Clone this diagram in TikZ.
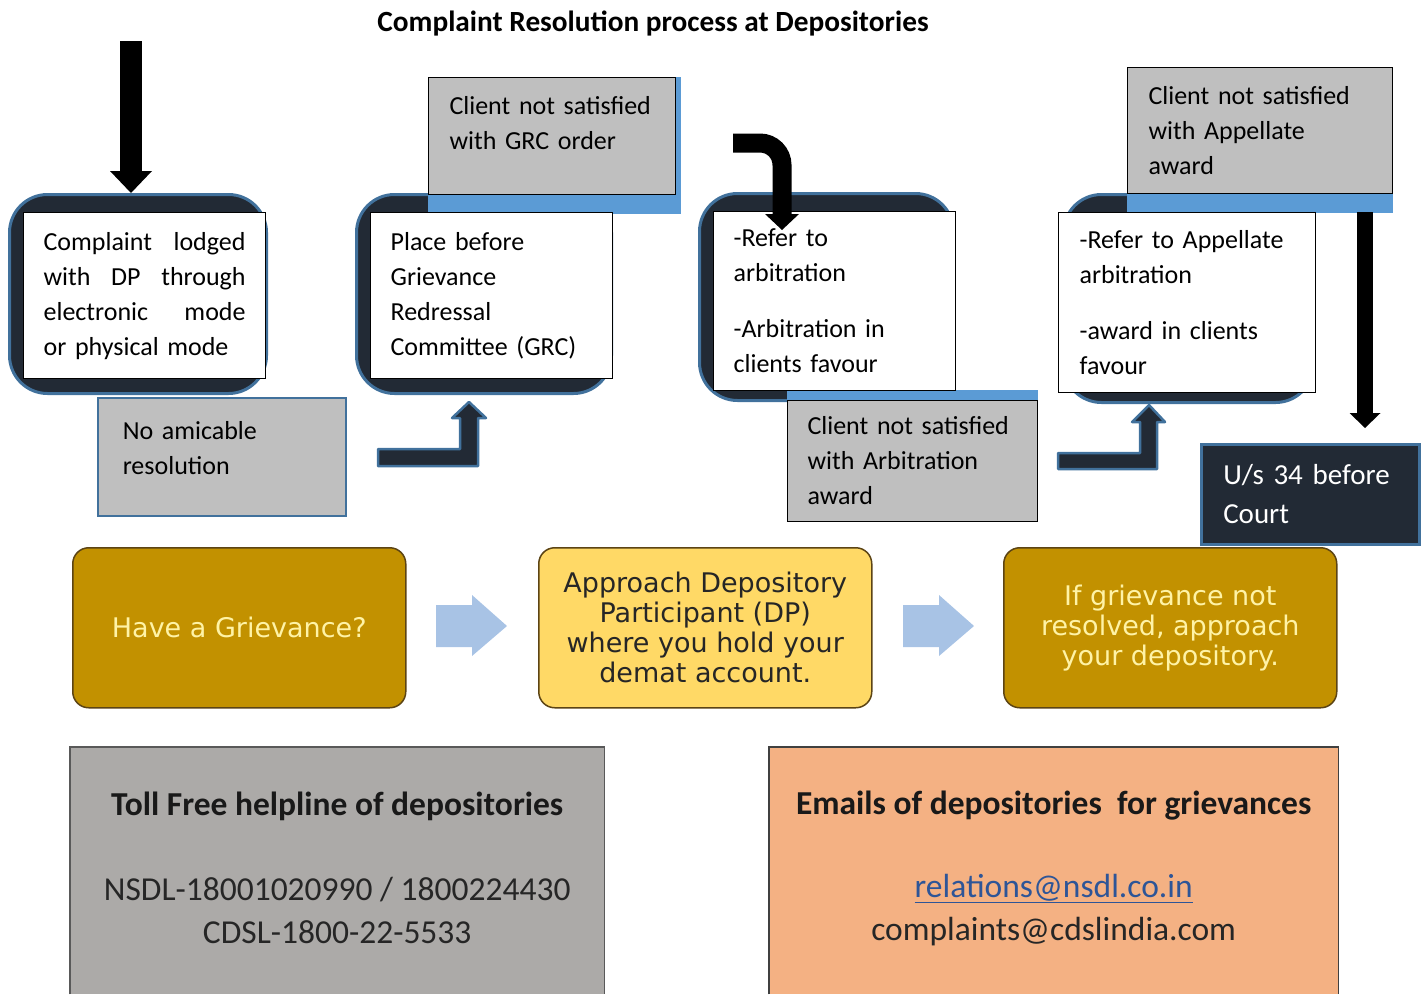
\documentclass[tikz,border=0pt]{standalone}
\usepackage{fontspec}
\setmainfont{Carlito}
\newfontfamily\vfont{DejaVu Sans}
\usepackage{xcolor}
\usetikzlibrary{arrows.meta}

\definecolor{navy}{HTML}{222A35}
\definecolor{edgeblue}{HTML}{41719C}
\definecolor{stripblue}{HTML}{5B9BD5}
\definecolor{panelgray}{HTML}{BFBFBF}
\definecolor{gold}{HTML}{C29100}
\definecolor{paleyellow}{HTML}{FFF3A6}
\definecolor{lightgold}{HTML}{FFD966}
\definecolor{goldedge}{HTML}{5C4414}
\definecolor{arrowblue}{HTML}{A8C3E5}
\definecolor{tollgray}{HTML}{ACAAA8}
\definecolor{peach}{HTML}{F4B183}
\definecolor{linkblue}{HTML}{2E5597}

\tikzset{
	body/.style={font=\fontsize{26}{35}\selectfont},
	back/.style={anchor=north west, fill=navy, draw=edgeblue, line width=3pt, rounded corners=38pt},
	whitebox/.style={body, anchor=north west, fill=white, draw=black, line width=1.2pt, inner xsep=20pt, inner ysep=0pt, align=left},
	graybox/.style={body, anchor=north west, fill=panelgray, draw=black, line width=1pt, inner xsep=21pt, inner ysep=0pt, align=left},
	strip/.style={anchor=north west, fill=stripblue, draw=stripblue, line width=0.5pt},
	bigarrow/.style={line width=22pt, -{Triangle[length=22pt,width=42pt,line width=0pt]}},
	bentarrow/.style={fill=navy, draw=edgeblue, line width=2.5pt, line join=round},
	stepbox/.style={anchor=north west, rounded corners=16pt, draw=goldedge, line width=1.5pt, minimum width=333pt, minimum height=160pt, align=center, font=\vfont\fontsize{27}{30}\selectfont},
	infobox/.style={anchor=north west, minimum width=534pt, minimum height=247pt, inner sep=0pt},
	headline/.style={font=\bfseries\fontsize{33.5}{38}\selectfont, text=black!90},
	contact/.style={font=\fontsize{33.5}{43}\selectfont, align=center, text=black!85}
}

\begin{document}
\begin{tikzpicture}[x=1pt,y=-1pt]
	\useasboundingbox (0,0) rectangle (1426,994);
	
	\node[font=\bfseries\fontsize{29.3}{34}\selectfont] (title) at (653,23) {Complaint Resolution process at Depositories};
	
	\node[back, minimum width=257pt, minimum height=199pt] (n1) at (8,193) {};
	\node[back, minimum width=255pt, minimum height=199pt] (n2) at (355,193) {};
	\node[back, minimum width=254pt, minimum height=207pt] (n3) at (698,192) {};
	\node[back, minimum width=250pt, minimum height=208pt] (n4) at (1062,193) {};
	
	\node[graybox, draw=edgeblue, line width=1.5pt, inner xsep=25pt, text width=198pt, minimum height=118pt] (g1) at (97,397) {No amicable\\resolution\\[-18pt]\mbox{}};
	
	\node[strip, minimum width=252pt, minimum height=136pt] (b2) at (428,77) {};
	\node[graybox, text width=205pt, minimum height=117pt] (g2) at (428,77) {Client not satisfied\\with GRC order\\[-9pt]\mbox{}};
	
	\node[strip, minimum width=250pt, minimum height=12pt] (b3) at (787,390) {};
	\node[graybox, inner xsep=20pt, text width=210pt, minimum height=121pt] (g3) at (787,400) {Client not satisfied\\with Arbitration\\award};
	
	\node[strip, minimum width=265pt, minimum height=145pt] (b4) at (1127,67) {};
	\node[graybox, text width=223pt, minimum height=126pt] (g4) at (1127,67) {Client not satisfied\\with Appellate\\award};
	
	\node[whitebox, text width=202pt, minimum height=166pt] (w1) at (23,212) {Complaint\hfill lodged\\with\hfill DP\hfill through\\electronic\hfill mode\\or physical mode};
	\node[whitebox, text width=202pt, minimum height=166pt] (w2) at (370,212) {Place before\\Grievance\\Redressal\\Committee (GRC)};
	\node[whitebox, text width=202pt, minimum height=179pt] (w3) at (713,211) {-Refer to\\arbitration\\[21pt]-Arbitration in\\clients favour};
	\node[whitebox, inner xsep=21pt, text width=215pt, minimum height=180pt] (w4) at (1058,212) {-Refer to Appellate\\arbitration\\[21pt]-award in clients\\favour};
	
	\node[anchor=north west, fill=navy, draw=edgeblue, line width=2.5pt, text=white, font=\fontsize{29}{39}\selectfont, align=left, inner xsep=22pt, inner ysep=0pt, text width=174pt, minimum height=100pt] (court) at (1200,443) {U/s 34 before\\Court};
	
	\coordinate (in) at (131,41);
	\draw[bigarrow] (in) -- (in |- n1.north);
	
	\coordinate (k) at (733,143);
	\draw[line width=19pt, rounded corners=22pt, -{Triangle[length=16pt,width=34pt,line width=0pt]}] (k) -| (782,230);
	
	\coordinate (r) at (1365,212);
	\draw[line width=16pt, -{Triangle[length=15pt,width=31pt,line width=0pt]}] (r) -- (1365,428);
	
	\draw[bentarrow] (378,449) -- (460,449) -- (460,418) -- (452,418) -- (469,402) -- (486,418) -- (478,418) -- (478,466) -- (378,466) -- cycle;
	\draw[bentarrow] (1058,453) -- (1140,453) -- (1140,422) -- (1132,422) -- (1149,405) -- (1165,422) -- (1157,422) -- (1157,469) -- (1058,469) -- cycle;
	
	\node[stepbox, fill=gold, text=paleyellow] (s1) at (72,547) {Have a Grievance?};
	\node[stepbox, fill=lightgold, text=black!85] (s2) at (538,547) {Approach Depository\\Participant (DP)\\where you hold your\\demat account.};
	\node[stepbox, fill=gold, text=paleyellow] (s3) at (1003,547) {If grievance not\\resolved, approach\\your depository.};
	
	\foreach \x in {436,903}
		\fill[arrowblue, shift={(\x,626)}] (0,-21) -- (36,-21) -- (36,-31) -- (71,0) -- (36,30) -- (36,21) -- (0,21) -- cycle;
	
	\node[infobox, fill=tollgray] (toll) at (70,747) {};
	\draw[black!65, line width=1.5pt] (toll.south west) -- (toll.north west) -- (toll.north east) -- (toll.south east);
	\node[headline] (t1) at (toll.center |- 0,806) {Toll Free helpline of depositories};
	\node[contact] (t2) at (toll.center |- 0,910) {NSDL-18001020990 / 1800224430\\CDSL-1800-22-5533};
	
	\node[infobox, fill=peach, minimum width=569pt] (mail) at (769,747) {};
	\draw[black!75, line width=1.5pt] (mail.south west) -- (mail.north west) -- (mail.north east) -- (mail.south east);
	\node[headline] (m1) at (mail.center |- 0,806) {Emails of depositories\ \ for grievances};
	\node[contact] (m2) at (mail.center |- 0,910) {\textcolor{linkblue}{\underline{relations@nsdl.co.in}}\\complaints@cdslindia.com};
\end{tikzpicture}
\end{document}
